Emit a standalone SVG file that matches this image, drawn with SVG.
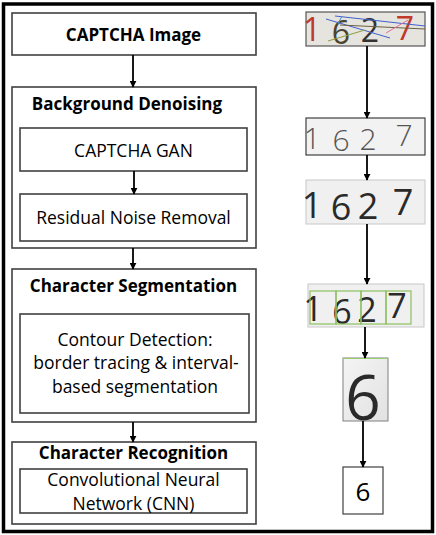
<svg xmlns="http://www.w3.org/2000/svg" width="436" height="535" viewBox="0 0 436 535">
<defs>
<marker id="ah" viewBox="0 0 10 10" refX="9" refY="5" markerWidth="7" markerHeight="7" markerUnits="userSpaceOnUse" orient="auto">
<path d="M0,0 L10,5 L0,10 z" fill="#000"/>
</marker>
<linearGradient id="g6" x1="0" y1="0" x2="1" y2="1">
<stop offset="0" stop-color="#f4f4f4"/><stop offset="1" stop-color="#e2e2e2"/>
</linearGradient>
<style>
.box{fill:#fff;stroke:#404040;stroke-width:1.6}
.b{font-family:"Open Sans","Liberation Sans",sans-serif;font-weight:bold;font-size:17px;fill:#000;text-anchor:middle}
.r{font-family:"Open Sans","Liberation Sans",sans-serif;font-size:17.5px;fill:#000;text-anchor:middle}
.con{stroke:#000;stroke-width:1.8;fill:none;marker-end:url(#ah)}
.dig{font-family:"Open Sans","DejaVu Sans",sans-serif;font-weight:300;text-anchor:middle}
.dk{font-family:"Open Sans","DejaVu Sans",sans-serif;font-weight:normal;text-anchor:middle}
</style>
</defs>
<rect x="0" y="0" width="436" height="535" fill="#fff"/>
<rect x="3.5" y="4" width="429" height="527.5" fill="none" stroke="#000" stroke-width="3.5"/>

<g id="captcha-image">
<rect class="box" x="12" y="13" width="244" height="42"/>
<text class="b" x="133.5" y="41">CAPTCHA Image</text>
</g>
<g id="background-denoising">
<rect class="box" x="12" y="87" width="244" height="161"/>
<text class="b" x="127" y="110">Background Denoising</text>
</g>
<g id="captcha-gan">
<rect class="box" x="20" y="128" width="227" height="43"/>
<text class="r" x="133.5" y="157">CAPTCHA GAN</text>
</g>
<g id="residual-noise-removal">
<rect class="box" x="20" y="194" width="227" height="47"/>
<text class="r" x="133.5" y="224">Residual Noise Removal</text>
</g>
<g id="character-segmentation">
<rect class="box" x="12" y="269" width="244" height="153"/>
<text class="b" x="133.5" y="292">Character Segmentation</text>
</g>
<g id="contour-detection">
<rect class="box" x="20" y="314" width="229" height="99"/>
<text class="r" x="135" y="346">Contour Detection:</text>
<text class="r" x="136" y="369">border tracing &amp; interval-</text>
<text class="r" x="135" y="393">based segmentation</text>
</g>
<g id="character-recognition">
<rect class="box" x="12" y="442" width="244" height="82"/>
<text class="b" x="133.5" y="459">Character Recognition</text>
</g>
<g id="cnn">
<rect class="box" x="20" y="469" width="227" height="44"/>
<text class="r" x="133.5" y="486">Convolutional Neural</text>
<text class="r" x="133.5" y="510">Network (CNN)</text>
</g>

<g id="img-captcha">
<rect x="306" y="12" width="119" height="34" fill="#e6e4de" stroke="#555" stroke-width="1.2"/>
<text class="dk" x="312" y="41" font-size="32" fill="#c0392b">1</text>
<text class="dk" x="341" y="44" font-size="32" fill="#4a4430">6</text>
<text class="dk" x="370" y="42" font-size="32" fill="#333">2</text>
<text class="dk" x="405" y="40" font-size="32" fill="#c0392b">7</text>
<line x1="335" y1="16" x2="425" y2="26" stroke="#4060d0" stroke-width="1"/>
<line x1="326" y1="19" x2="390" y2="38" stroke="#4060d0" stroke-width="1"/>
<line x1="340" y1="25" x2="425" y2="29" stroke="#6a6040" stroke-width="1"/>
<line x1="328" y1="41" x2="365" y2="30" stroke="#8aa040" stroke-width="1"/>
<line x1="386" y1="33" x2="408" y2="20" stroke="#e070a0" stroke-width="1"/>
<line x1="342" y1="16" x2="338" y2="24" stroke="#4090d0" stroke-width="1"/>
</g>
<g id="img-gan">
<rect x="306" y="118" width="119" height="37" fill="#f2f2f2" stroke="#404040" stroke-width="1.2"/>
<text class="dig" x="312" y="149" font-size="30" fill="#555">1</text>
<text class="dig" x="341" y="151" font-size="30" fill="#555">6</text>
<text class="dig" x="368" y="150" font-size="30" fill="#555">2</text>
<text class="dig" x="404" y="146" font-size="30" fill="#555">7</text>
</g>
<g id="img-residual">
<rect x="306" y="180" width="119" height="44" fill="#f0f0f0" stroke="#c8c8c8" stroke-width="1"/>
<text class="dk" x="312" y="218" font-size="36" fill="#2a2a2a">1</text>
<text class="dk" x="341" y="220" font-size="36" fill="#2a2a2a">6</text>
<text class="dk" x="368" y="219" font-size="36" fill="#2a2a2a">2</text>
<text class="dk" x="403" y="215" font-size="36" fill="#2a2a2a">7</text>
</g>
<g id="img-segmented">
<rect x="308" y="284" width="116" height="43" fill="#f0f0f0" stroke="#c8c8c8" stroke-width="1"/>
<text class="dk" x="313" y="321" font-size="34" fill="#2a2a2a">1</text>
<text class="dk" x="342" y="324" font-size="34" fill="#2a2a2a">6</text>
<text class="dk" x="367" y="322" font-size="34" fill="#2a2a2a">2</text>
<text class="dk" x="397" y="318" font-size="34" fill="#2a2a2a">7</text>
<g fill="none" stroke="#8cc060" stroke-width="1.2">
<rect x="310" y="291" width="26" height="33"/>
<rect x="336" y="291" width="25" height="33"/>
<rect x="361" y="291" width="25" height="33"/>
<rect x="386" y="291" width="25" height="33"/>
</g>
</g>
<g id="img-char">
<rect x="343" y="358" width="45" height="63" fill="url(#g6)" stroke="#808080" stroke-width="1"/>
<line x1="343" y1="358.5" x2="388" y2="358.5" stroke="#9acd70" stroke-width="1"/>
<text class="dk" x="363" y="420" font-size="62" fill="#2a2a2a">6</text>
</g>
<g id="result">
<rect x="343" y="467" width="40" height="47" fill="#fff" stroke="#404040" stroke-width="1.2"/>
<text x="363" y="501" font-family="Open Sans, Liberation Sans, sans-serif" font-size="26" text-anchor="middle" fill="#000">6</text>
</g>

<g id="connectors">
<line class="con" x1="133" y1="55" x2="133" y2="87"/>
<line class="con" x1="134" y1="171" x2="134" y2="194"/>
<line class="con" x1="133" y1="248" x2="133" y2="269"/>
<line class="con" x1="133" y1="422" x2="133" y2="442"/>
<line class="con" x1="367" y1="46" x2="367" y2="118"/>
<line class="con" x1="367" y1="155" x2="367" y2="180"/>
<line class="con" x1="367" y1="224" x2="367" y2="284"/>
<line class="con" x1="365" y1="327" x2="365" y2="358"/>
<line class="con" x1="363" y1="421" x2="363" y2="467"/>
</g>
</svg>
